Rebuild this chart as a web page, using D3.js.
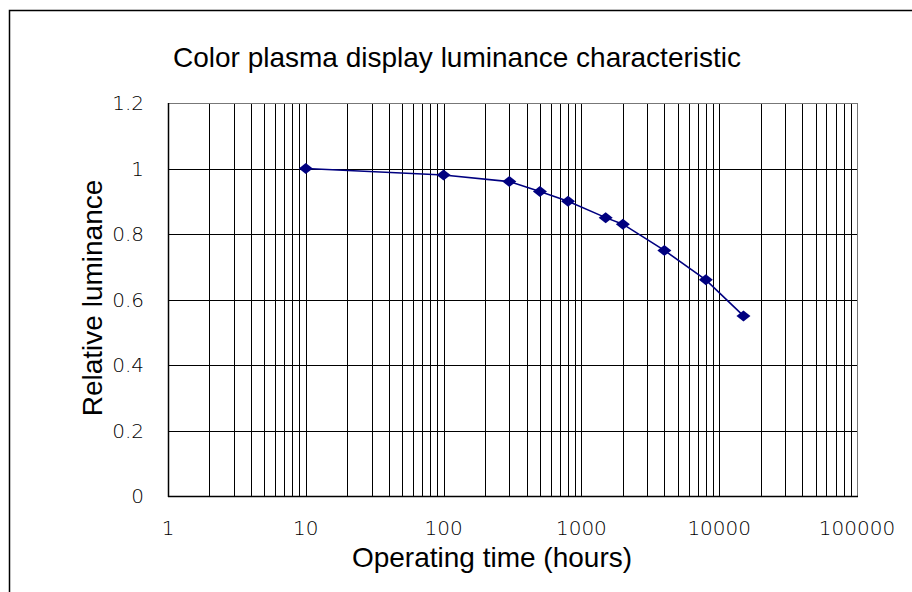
<!DOCTYPE html>
<html lang="en">
<head>
  <meta charset="UTF-8">
  <title>luminance</title>
  <script src="https://d3js.org/d3.v7.min.js"></script>
  <style>
    body { margin: 0; background: #fff; }
    text { fill: #000; }
    .tick { font-family: 'DejaVu Sans ExtraLight', 'DejaVu Sans', sans-serif; font-size: 20px; font-weight: 200; }
    .title { font-family: 'Liberation Sans', Arial, sans-serif; font-size: 28px; }
  </style>
</head>
<body>
  <svg id="chart" width="912" height="592"></svg>
  <script>
    // operating time (hours) and relative luminance
    const hours = [10, 100, 300, 500, 800, 1500, 2000, 4000, 8000, 15000];
    const luminance = [1.0, 0.98, 0.96, 0.93, 0.90, 0.85, 0.83, 0.75, 0.66, 0.55];
    const xTicks = [1, 10, 100, 1000, 10000, 100000];
    const yTicks = [0, 0.2, 0.4, 0.6, 0.8, 1, 1.2];

    const svg = d3.select("#chart");
    const plotLeft = 168, plotRight = 857, plotTop = 103, plotBottom = 496;

    // outer frame
    svg.append("rect").attr("x", 9.5).attr("y", 10.5).attr("width", 920).attr("height", 600)
      .attr("fill", "none").attr("stroke", "#000").attr("stroke-width", 1.5);

    const x = d3.scaleLog().domain([1, 100000]).range([plotLeft, plotRight]);
    const y = d3.scaleLinear().domain([0, 1.2]).range([plotBottom, plotTop]);

    // vertical grid, every 1..9 per decade
    const minor = [];
    for (let p = 0; p < 5; p++) {
      for (let k = 1; k <= 9; k++) minor.push(k * Math.pow(10, p));
    }
    minor.push(100000);
    svg.append("g").selectAll("line").data(minor).join("line")
      .attr("x1", d => Math.round(x(d)) + 0.5).attr("x2", d => Math.round(x(d)) + 0.5)
      .attr("y1", plotTop).attr("y2", plotBottom)
      .attr("stroke", d => d === 100000 ? "#777" : "#000").attr("stroke-width", 1);

    // horizontal grid
    svg.append("g").selectAll("line").data(yTicks).join("line")
      .attr("x1", plotLeft).attr("x2", plotRight)
      .attr("y1", d => Math.round(y(d)) + 0.5).attr("y2", d => Math.round(y(d)) + 0.5)
      .attr("stroke", d => d === 1.2 ? "#777" : "#000").attr("stroke-width", 1);

    // axes lines
    svg.append("line").attr("x1", plotLeft + 0.5).attr("x2", plotLeft + 0.5).attr("y1", plotTop).attr("y2", plotBottom + 1)
      .attr("stroke", "#000").attr("stroke-width", 1.5);
    svg.append("line").attr("x1", plotLeft).attr("x2", plotRight + 1).attr("y1", plotBottom + 0.5).attr("y2", plotBottom + 0.5)
      .attr("stroke", "#000").attr("stroke-width", 1.5);

    // tick labels
    svg.append("g").selectAll("text").data(yTicks).join("text")
      .attr("class", "tick")
      .attr("x", 144).attr("y", d => y(d) + 7)
      .attr("text-anchor", "end")
      .text(d => d3.format("~g")(d));

    svg.append("g").selectAll("text").data(xTicks).join("text")
      .attr("class", "tick")
      .attr("x", d => x(d)).attr("y", 535)
      .attr("text-anchor", "middle")
      .text(d => d);

    // line + markers
    const pts = hours.map((h, i) => [h, luminance[i]]);
    svg.append("path").datum(pts)
      .attr("fill", "none").attr("stroke", "#000080").attr("stroke-width", 1.6)
      .attr("d", d3.line().x(d => x(d[0])).y(d => y(d[1])));

    svg.append("g").selectAll("path").data(pts).join("path")
      .attr("transform", d => `translate(${x(d[0])},${y(d[1])})`)
      .attr("d", "M0,-5.5 L7,0 L0,5.5 L-7,0 Z")
      .attr("fill", "#000080");

    // titles
    svg.append("text").attr("class", "title").attr("x", 457).attr("y", 67).attr("text-anchor", "middle")
      .text("Color plasma display luminance characteristic");

    svg.append("text").attr("class", "title").attr("x", 492).attr("y", 567).attr("text-anchor", "middle")
      .text("Operating time (hours)");

    svg.append("text").attr("class", "title").attr("transform", "translate(102,298) rotate(-90)").attr("text-anchor", "middle")
      .text("Relative luminance");
  </script>
</body>
</html>
